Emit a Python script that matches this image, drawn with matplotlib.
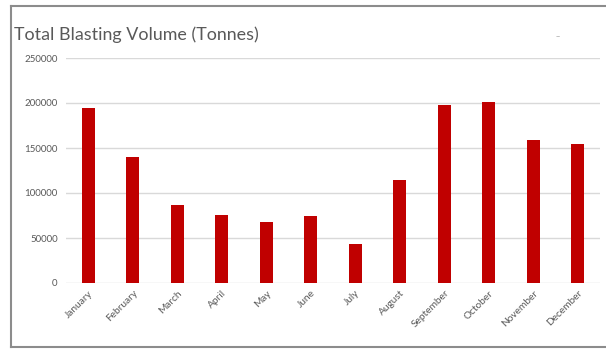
import matplotlib.pyplot as plt
from matplotlib.lines import Line2D

months = ["January", "February", "March", "April", "May", "June",
          "July", "August", "September", "October", "November", "December"]
tonnes = [194000, 140000, 87000, 76000, 68000, 75000,
          43000, 115000, 198000, 201000, 159000, 154000]
yticks = [0, 50000, 100000, 150000, 200000, 250000]

plt.rcParams['font.family'] = ['Lato', 'DejaVu Sans']

fig = plt.figure(figsize=(6.06, 3.51), dpi=100)
ax = fig.add_axes([66/606, 1-283/351, 534/606, 225/351])

ax.bar(range(len(months)), tonnes, width=0.30, color="#c00000", zorder=3)

ax.set_xlim(-0.5, len(months) - 0.5)
ax.set_ylim(0, 250000)
ax.set_yticks(yticks)
ax.set_yticklabels([str(v) for v in yticks], fontsize=7, color="#595959")
ax.set_xticks(range(len(months)))
ax.set_xticklabels(months, rotation=45, ha="right", rotation_mode="anchor",
                   fontsize=7.3, color="#595959")
ax.tick_params(length=0, pad=6)
ax.tick_params(axis='x', pad=4)
ax.grid(axis='y', color="#d9d9d9", linewidth=1, zorder=0)
for s in ax.spines.values():
    s.set_visible(False)

fig.text(14/606, 1-35/351, "Total Blasting Volume (Tonnes)", fontsize=12.9,
         color="#595959", va="center", ha="left")
fig.text(556/606, 1-37/351, "--", fontsize=5, color="#999999", va="center")

# chart border: left, top and bottom edges only
x0, y0, y1 = 11/606, 1-347/351, 1-6/351
for xs, ys in [([x0, x0], [y0, y1]), ([x0, 1], [y1, y1]), ([x0, 1], [y0, y0])]:
    fig.add_artist(Line2D(xs, ys, transform=fig.transFigure,
                          color="#8c8c8c", linewidth=1.5))

fig.savefig("out.png", dpi=100)
